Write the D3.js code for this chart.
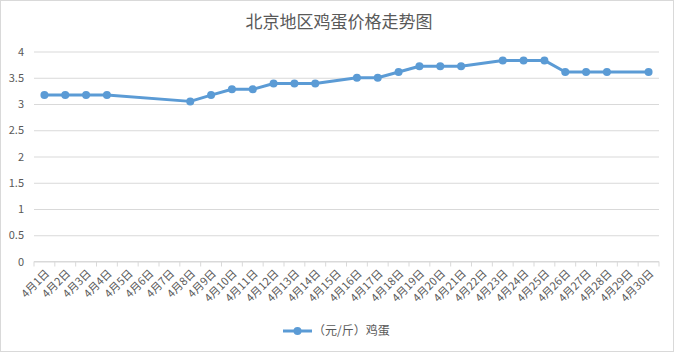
<!DOCTYPE html>
<html>
<head>
<meta charset="utf-8">
<script src="https://cdn.jsdelivr.net/npm/d3@7"></script>
<style>
  body { margin: 0; background: #fff; }
  text { font-family: "Noto Sans CJK SC", "Noto Sans", sans-serif; }
</style>
</head>
<body>
<div id="wrapper"></div>
<script>
// x categories, 4月1日 .. 4月30日
const days = ["4月1日","4月2日","4月3日","4月4日","4月5日","4月6日","4月7日","4月8日","4月9日","4月10日",
  "4月11日","4月12日","4月13日","4月14日","4月15日","4月16日","4月17日","4月18日","4月19日","4月20日",
  "4月21日","4月22日","4月23日","4月24日","4月25日","4月26日","4月27日","4月28日","4月29日","4月30日"];
// price per day, null = no data that day (line joins across)
const prices = [3.17,3.17,3.17,3.17,null,null,null,3.05,3.17,3.28,
  3.28,3.39,3.39,3.39,null,3.5,3.5,3.61,3.72,3.72,
  3.72,null,3.83,3.83,3.83,3.61,3.61,3.61,null,3.61];
const yTicks = [0,0.5,1,1.5,2,2.5,3,3.5,4];
const seriesName = "（元/斤）鸡蛋";
const title = "北京地区鸡蛋价格走势图";

const W = 674, H = 352;
const margin = {top: 51.5, left: 34, right: 15, bottom: 90.5};
const innerW = W - margin.left - margin.right;
const innerH = H - margin.top - margin.bottom;
const blue = "#5b9bd5", grid = "#d9d9d9", txt = "#595959";

const svg = d3.select("#wrapper").append("svg")
  .attr("width", W).attr("height", H);

svg.append("rect").attr("x", 0.5).attr("y", 0.5)
  .attr("width", W - 1).attr("height", H - 1)
  .attr("fill", "#fff").attr("stroke", grid);

svg.append("text")
  .attr("x", W / 2 + 2).attr("y", 28)
  .attr("text-anchor", "middle")
  .attr("font-size", 17).attr("fill", txt)
  .text(title);

const bounded = svg.append("g")
  .attr("transform", `translate(${margin.left}, ${margin.top})`);

const xScaler = d3.scaleBand().domain(days).range([0, innerW]);
const yScaler = d3.scaleLinear().domain([0, 4]).range([innerH, 0]);

// gridlines + y labels
const yAxis = d3.axisLeft(yScaler).tickValues(yTicks)
  .tickSize(-innerW).tickPadding(10).tickFormat(d3.format("~g"));
bounded.append("g").call(yAxis)
  .call(g => g.select(".domain").remove())
  .call(g => g.selectAll("line").attr("stroke", grid))
  .call(g => g.selectAll("text").attr("fill", txt).attr("font-size", 11));

// x axis with ticks at category boundaries
const xg = bounded.append("g").attr("transform", `translate(0, ${innerH})`);
xg.append("line").attr("x1", 0).attr("x2", innerW)
  .attr("stroke", grid);
const bounds = d3.range(days.length + 1).map(i => i * xScaler.step());
xg.selectAll(".tk").data(bounds).join("line")
  .attr("x1", d => d).attr("x2", d => d)
  .attr("y1", 0).attr("y2", 5).attr("stroke", grid);
xg.selectAll(".lbl").data(days).join("text")
  .attr("transform", d => `translate(${xScaler(d) + xScaler.bandwidth() / 2 + 3}, 10) rotate(-45)`)
  .attr("text-anchor", "end")
  .attr("dy", "0.35em")
  .attr("font-size", 11).attr("fill", txt)
  .text(d => d);

const points = days.map((d, i) => ({day: d, v: prices[i]})).filter(p => p.v !== null);

const line = d3.line()
  .x(d => xScaler(d.day) + xScaler.bandwidth() / 2)
  .y(d => yScaler(d.v));

bounded.append("path")
  .attr("d", line(points))
  .attr("fill", "none").attr("stroke", blue)
  .attr("stroke-width", 3).attr("stroke-linejoin", "round");

bounded.selectAll("circle").data(points).join("circle")
  .attr("cx", d => xScaler(d.day) + xScaler.bandwidth() / 2)
  .attr("cy", d => yScaler(d.v))
  .attr("r", 4).attr("fill", blue);

// legend
const lg = svg.append("g").attr("transform", "translate(283, 331)");
lg.append("line").attr("x1", 0).attr("x2", 29).attr("stroke", blue).attr("stroke-width", 3);
lg.append("circle").attr("cx", 14.5).attr("r", 4).attr("fill", blue);
lg.append("text").attr("x", 30).attr("dy", "0.35em")
  .attr("font-size", 12).attr("fill", txt).text(seriesName);
</script>
</body>
</html>
